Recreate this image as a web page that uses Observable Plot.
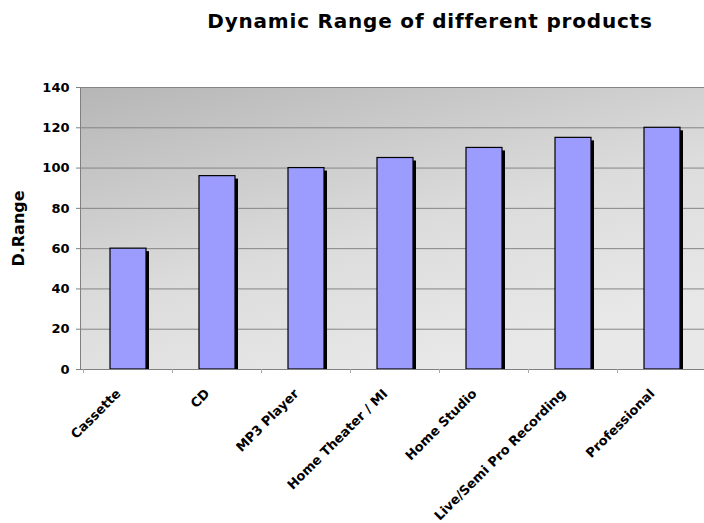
<!DOCTYPE html>
<html><head><meta charset="utf-8">
<script src="https://cdn.jsdelivr.net/npm/d3@7"></script>
<script src="https://cdn.jsdelivr.net/npm/@observablehq/plot@0.6"></script>
<style>
body{margin:0;background:#fff;}
#wrap{position:relative;width:704px;height:523px;overflow:hidden;}
#title{position:absolute;left:430px;top:11px;transform:translateX(-50%);white-space:nowrap;font-family:"DejaVu Sans";font-weight:bold;font-size:20px;letter-spacing:0.8px;line-height:1;color:#000;}
#chart{position:absolute;left:0;top:40px;}
</style></head><body>
<div id="wrap"><div id="title">Dynamic Range of different products</div><div id="chart"></div></div>
<script>
const categories = ["Cassette", "CD", "MP3 Player", "Home Theater / MI", "Home Studio", "Live/Semi Pro Recording", "Professional"];
const values = [60, 96, 100, 105, 110, 115, 120];
const yTicks = [0, 20, 40, 60, 80, 100, 120, 140];
const yLabel = "D.Range";

const data = categories.map((c, i) => ({product: c, range: values[i]}));

const plot = Plot.plot({
  width: 704, height: 483,
  marginLeft: 80, marginRight: -5, marginTop: 47, marginBottom: 154,
  style: {fontFamily: "DejaVu Sans", fontWeight: "bold", fontSize: "13px", color: "#000", background: "transparent", overflow: "visible"},
  x: {domain: categories, paddingInner: 0.6, paddingOuter: 0.3},
  y: {domain: [0, 140]},
  marks: [
    Plot.frame({fill: "url(#bg)", stroke: "none"}),
    Plot.gridY(yTicks, {stroke: "#858585", strokeOpacity: 1}),
    Plot.barY(data, {x: "product", y: "range", fill: "#000", dx: 3, dy: 3, clip: true}),
    Plot.barY(data, {x: "product", y: "range", fill: "#9c9cff", stroke: "#000", strokeWidth: 1.2}),
    Plot.ruleY([0], {stroke: "#808080"}),
    Plot.frame({anchor: "left", stroke: "#808080"}),
    Plot.ruleX(categories, {x: d => d, y1: 0, y2: 0, insetBottom: -4, dx: -45, stroke: "#aaa"}),
    Plot.axisY(yTicks, {tickSize: 4, tickPadding: 7, stroke: "#808080", label: null, fontSize: 13}),
    Plot.axisX({tickSize: 0, tickRotate: -45, tickPadding: 22, dx: -10, label: null, fontSize: 13, letterSpacing: 0.3}),
    Plot.text([yLabel], {frameAnchor: "left", dx: -62, rotate: -90, textAnchor: "middle", lineAnchor: "middle", fontSize: 16, fontWeight: "bold"})
  ]
});
const ns = "http://www.w3.org/2000/svg";
const defs = document.createElementNS(ns, "defs");
defs.innerHTML = '<linearGradient id="bg" x1="0" y1="0" x2="0.55" y2="1"><stop offset="0" stop-color="#b6b6b6"/><stop offset="0.6" stop-color="#dcdcdc"/><stop offset="1" stop-color="#e8e8e8"/></linearGradient>';
plot.insertBefore(defs, plot.firstChild);
document.getElementById("chart").appendChild(plot);
</script>
</body></html>
